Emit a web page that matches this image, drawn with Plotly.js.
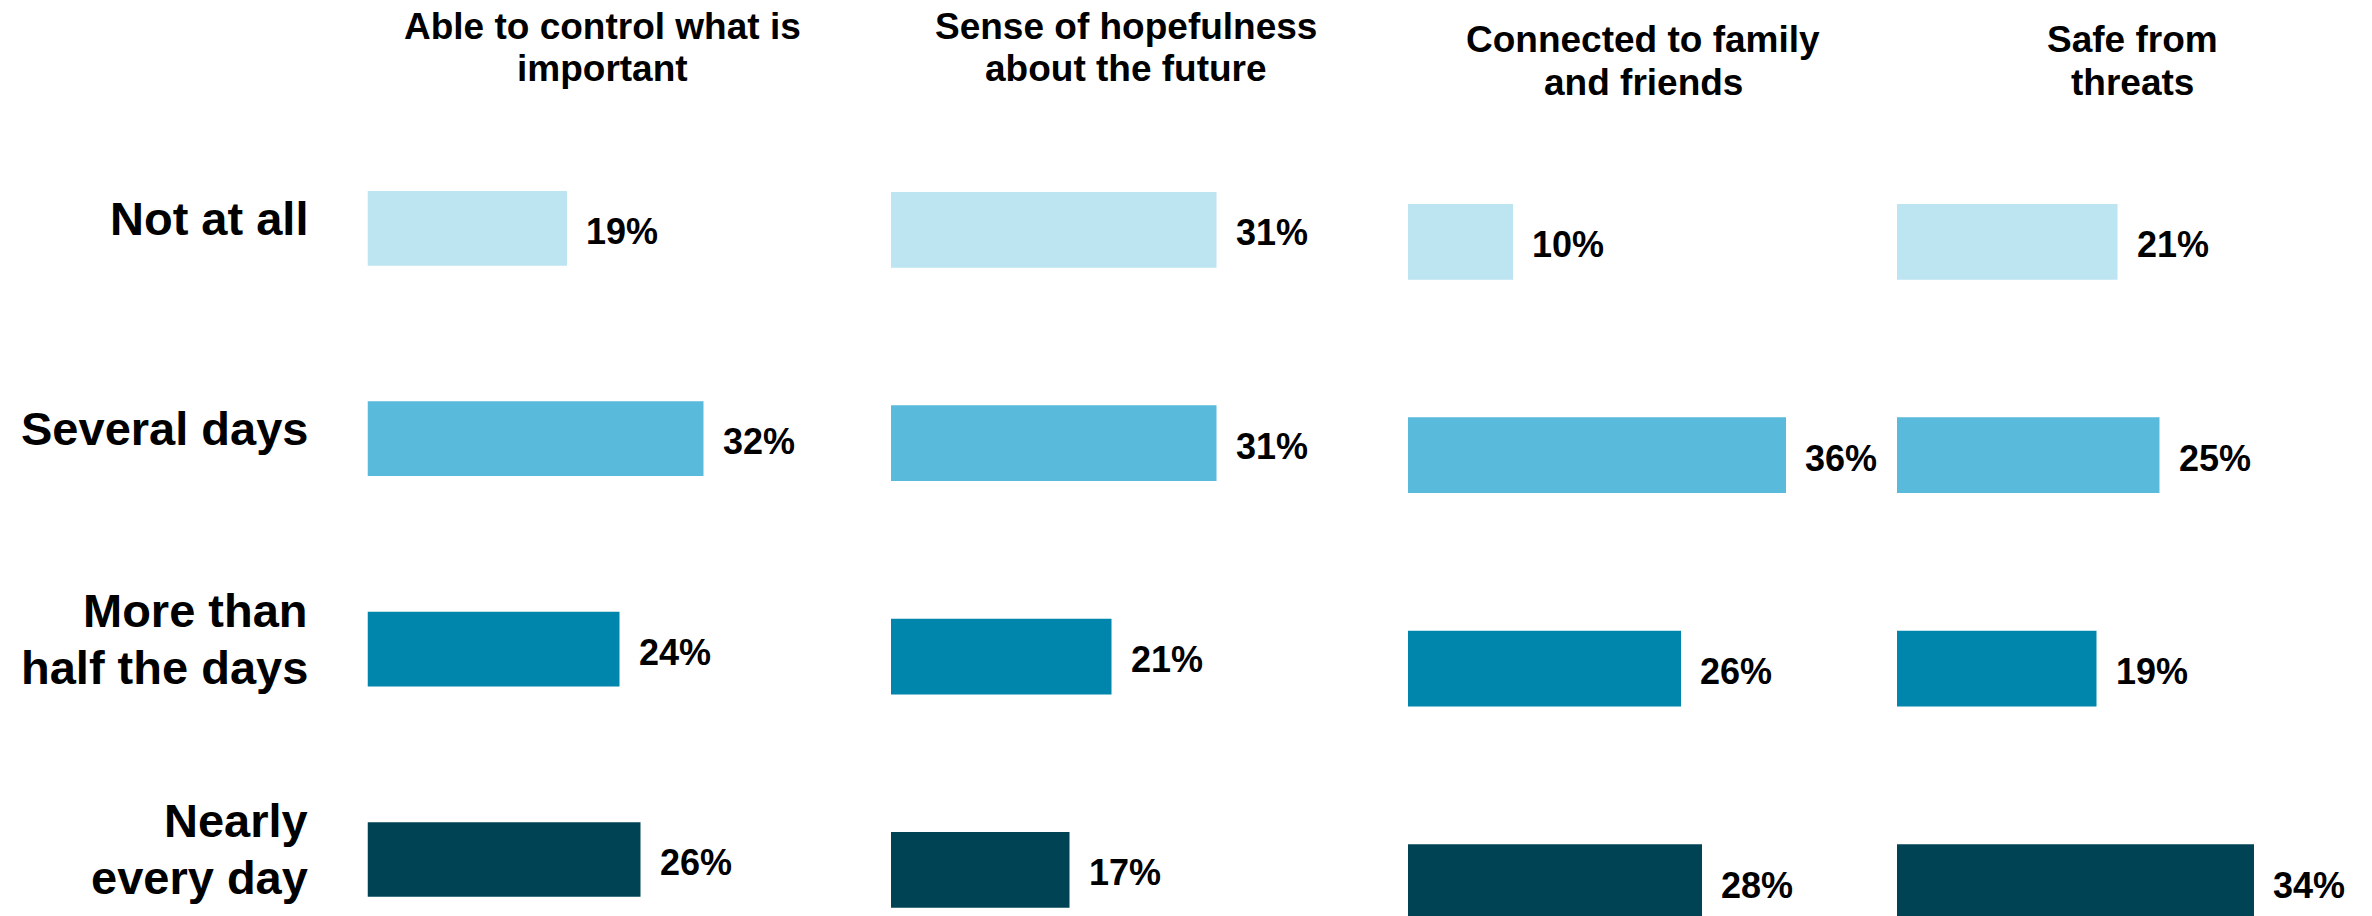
<!DOCTYPE html>
<html>
<head>
<meta charset="utf-8">
<script src="https://cdn.plot.ly/plotly-3.0.1.min.js"></script>
<style>
  html, body { margin: 0; padding: 0; background: #ffffff; }
  #chart { width: 2372px; height: 916px; }
</style>
</head>
<body>
<div id="chart"></div>
<script>
// ---- Data ----
const categories = ["Not at all", "Several days", "More than<br>half the days", "Nearly<br>every day"];
const panelTitles = ["Able to control what is<br>important", "Sense of hopefulness<br>about the future", "Connected to family<br>and friends", "Safe from<br>threats"];
const ableToControl = [19, 32, 24, 26];
const hopefulness = [31, 31, 21, 17];
const connectedFamily = [10, 36, 26, 28];
const safeFromThreats = [21, 25, 19, 34];
const levelColors = ["#BDE4F1", "#5ABADC", "#0086AD", "#004355"];

const seriesList = [ableToControl, hopefulness, connectedFamily, safeFromThreats];

// ---- Layout geometry (pixels) ----
const W = 2372, H = 916;
const FONT = "Liberation Sans, Arial, Helvetica, sans-serif";
const xDomainsPx = [[367.5, 837.5], [891, 1361], [1408, 1878], [1897, 2367]];
const xMax = 470 / 10.5;
const yRanges = [[3.2686, -1.085], [3.2156, -1.0768], [3.1593, -1.1331], [3.1593, -1.1331]];
const titleLineCentersPx = [[27, 68], [27, 68], [39, 82], [39, 82]];

const traces = [];
const annotations = [];
const layout = {
  width: W, height: H,
  margin: {l: 0, r: 0, t: 0, b: 0, pad: 0},
  paper_bgcolor: "#ffffff", plot_bgcolor: "#ffffff",
  showlegend: false,
  font: {family: FONT, color: "#000000"},
  annotations: annotations
};

seriesList.forEach((vals, p) => {
  const sfx = p === 0 ? "" : String(p + 1);
  traces.push({
    type: "bar", orientation: "h",
    x: vals, y: categories,
    xaxis: "x" + sfx, yaxis: "y" + sfx,
    width: 0.355,
    marker: {color: levelColors, line: {width: 0}},
    hoverinfo: "skip"
  });
  layout["xaxis" + sfx] = {
    domain: [xDomainsPx[p][0] / W, xDomainsPx[p][1] / W],
    range: [0, xMax], visible: false, fixedrange: true,
    anchor: "y" + sfx
  };
  layout["yaxis" + sfx] = {
    domain: [0, 1], type: "category",
    categoryorder: "array", categoryarray: categories,
    range: yRanges[p], visible: false, fixedrange: true,
    anchor: "x" + sfx
  };
  // value labels
  vals.forEach((v, i) => {
    annotations.push({
      xref: "x" + sfx, yref: "y" + sfx, x: v, y: categories[i],
      text: v + "%", showarrow: false, xanchor: "left", yanchor: "middle",
      xshift: 17, yshift: -3,
      font: {family: FONT, size: 36, color: "#000000", weight: "bold"}
    });
  });
  // panel titles (one annotation per line)
  panelTitles[p].split("<br>").forEach((line, k) => {
    annotations.push({
      xref: "x" + sfx + " domain", yref: "paper", x: 0.5,
      y: 1 - titleLineCentersPx[p][k] / H,
      text: line, showarrow: false, xanchor: "center", yanchor: "middle",
      font: {family: FONT, size: 37, color: "#000000", weight: "bold"}
    });
  });
});

// category labels on the left (one annotation per line)
categories.forEach((cat, i) => {
  const lines = cat.split("<br>");
  lines.forEach((line, k) => {
    const offset = -10 + (k - (lines.length - 1) / 2) * 57;
    annotations.push({
      xref: "paper", yref: "y", x: 310 / W, y: cat,
      yshift: -offset,
      text: line, showarrow: false, xanchor: "right", yanchor: "middle",
      font: {family: FONT, size: 47, color: "#000000", weight: "bold"}
    });
  });
});

Plotly.newPlot("chart", traces, layout, {staticPlot: true, displayModeBar: false});
</script>
</body>
</html>
